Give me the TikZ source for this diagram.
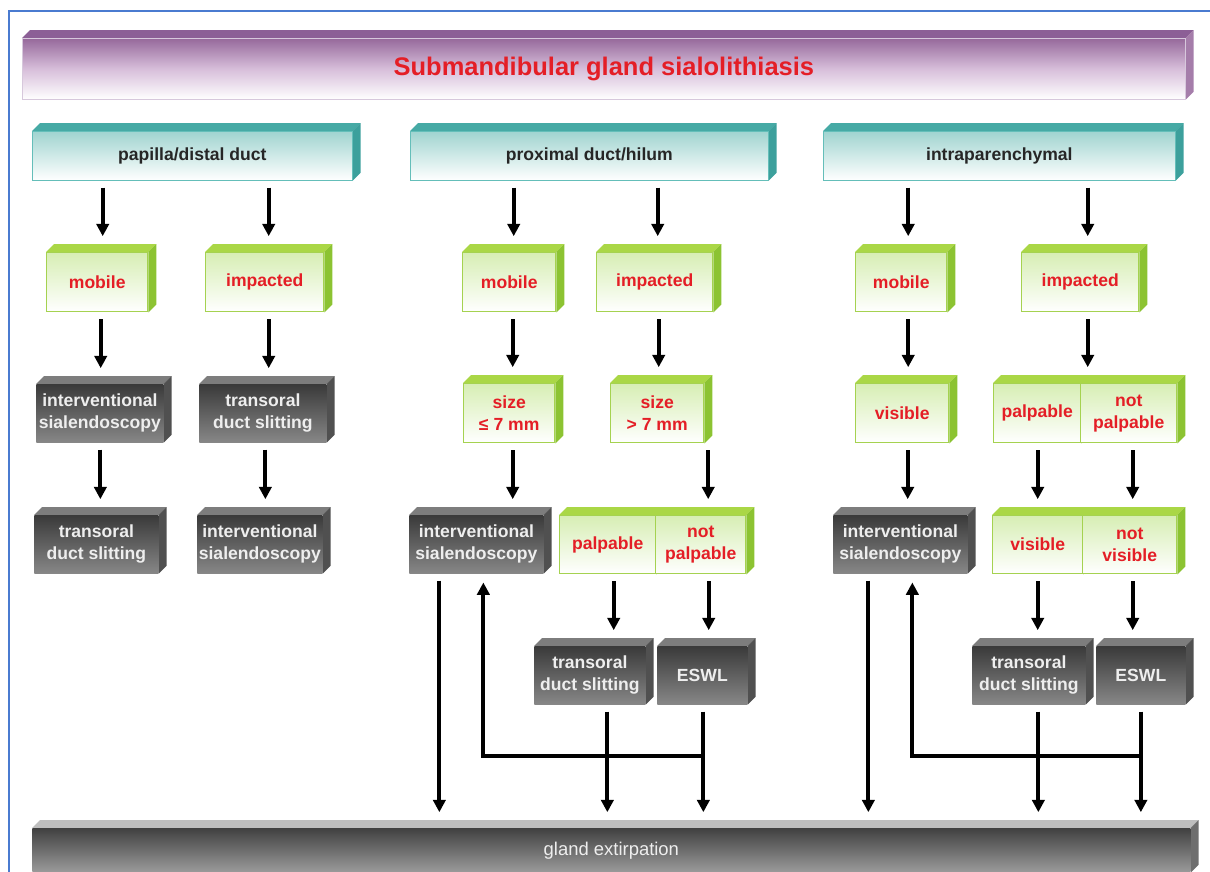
\documentclass[tikz,border=0pt]{standalone}
\usepackage{fontspec}
\setmainfont{Liberation Sans}
\usetikzlibrary{arrows.meta,calc,backgrounds}

\definecolor{framecol}{RGB}{74,123,208}
\definecolor{redtext}{RGB}{228,30,38}
\definecolor{greenline}{RGB}{165,210,80}
\definecolor{greentop}{RGB}{215,238,180}
\definecolor{topgreen}{RGB}{170,215,70}
\definecolor{sidegreen}{RGB}{140,195,50}
\definecolor{greytop}{RGB}{58,58,58}
\definecolor{greybot}{RGB}{135,135,135}
\definecolor{topgrey}{RGB}{125,125,125}
\definecolor{sidegrey}{RGB}{80,80,80}
\definecolor{greytext}{RGB}{238,238,238}
\definecolor{tealline}{RGB}{100,190,185}
\definecolor{tealtop}{RGB}{160,212,208}
\definecolor{topteal}{RGB}{70,170,165}
\definecolor{sideteal}{RGB}{60,160,156}
\definecolor{titleline}{RGB}{215,200,220}
\definecolor{titletop}{RGB}{150,105,155}
\definecolor{titlemid}{RGB}{215,190,218}
\definecolor{toptitle}{RGB}{140,95,150}
\definecolor{sidetitle}{RGB}{165,125,170}
\definecolor{bartop}{RGB}{65,65,65}
\definecolor{barbot}{RGB}{155,155,155}
\definecolor{topbar}{RGB}{190,190,190}
\definecolor{sidebar}{RGB}{110,110,110}

\begin{document}
\begin{tikzpicture}[x=0.02cm, y=-0.02cm,
    sz/.style 2 args={minimum width=#1*0.02cm, minimum height=#2*0.02cm, anchor=north west},
    box/.style={inner sep=0pt, align=center, font=\bfseries\fontsize{10}{12.5}\selectfont},
    titlebox/.style={box, draw=titleline, top color=titletop, bottom color=white, middle color=titlemid, text=redtext, font=\bfseries\fontsize{14.5}{17}\selectfont},
    tealbox/.style={box, draw=tealline, top color=tealtop, bottom color=white, text=black!85},
    greenbox/.style={box, draw=greenline, line width=0.8pt, top color=greentop, bottom color=white, text=redtext},
    greybox/.style={box, top color=greytop, bottom color=greybot, text=greytext},
    barbox/.style={box, top color=bartop, bottom color=barbot, text=greytext, font=\fontsize{10.5}{12}\selectfont},
    arr/.style={line width=2.2pt, -{Triangle[length=7pt,width=7pt]}, shorten <=4pt, shorten >=9pt}
  ]
        \useasboundingbox (0,0) rectangle (1210,872);

        % Draw the frame
        \draw[framecol, line width=1.5pt] (9,872) -- (9,11) -- (1210,11);

        % Title and bottom bar
        \node[titlebox, sz={1163}{61}] at (22,38) (title) {Submandibular gland sialolithiasis};
        \node[barbox, sz={1158}{44}] at (32,828) (ge) {gland extirpation};

        % Location of the stone
        \node[tealbox, sz={320}{49}] at (32,131) (pd) {papilla/distal duct};
        \node[tealbox, sz={358}{49}] at (410,131) (ph) {proximal duct/hilum};
        \node[tealbox, sz={352}{49}] at (823,131) (ip) {intraparenchymal};

        % Second level
        \node[greenbox, sz={101}{59}] at (46,252) (pdm) {mobile};
        \node[greenbox, sz={118}{59}] at (205,252) (pdi) {impacted};
        \node[greenbox, sz={93}{59}] at (462,252) (phm) {mobile};
        \node[greenbox, sz={116}{59}] at (596,252) (phi) {impacted};
        \node[greenbox, sz={91}{59}] at (855,252) (ipm) {mobile};
        \node[greenbox, sz={117}{59}] at (1021,252) (ipi) {impacted};

        % Third level
        \node[greybox, sz={127}{58}] at (36,384) (pdm2) {interventional\\sialendoscopy};
        \node[greybox, sz={127}{58}] at (199,384) (pdi2) {transoral\\duct slitting};
        \node[greenbox, sz={91}{59}] at (463,383) (phs) {size\\≤ 7 mm};
        \node[greenbox, sz={93}{59}] at (610,383) (phl) {size\\> 7 mm};
        \node[greenbox, sz={93}{59}] at (855,383) (ipv) {visible};
        \node[greenbox, sz={87}{59}] at (993,383) (ipp) {palpable};
        \node[greenbox, sz={96}{59}] at (1080,383) (ipn) {not\\palpable};

        % Fourth level
        \node[greybox, sz={124}{58}] at (34,515) (pdm3) {transoral\\duct slitting};
        \node[greybox, sz={125}{58}] at (197,515) (pdi3) {interventional\\sialendoscopy};
        \node[greybox, sz={134}{58}] at (409,515) (phe) {interventional\\sialendoscopy};
        \node[greenbox, sz={96}{58}] at (559,515) (php) {palpable};
        \node[greenbox, sz={90}{58}] at (655,515) (phn) {not\\palpable};
        \node[greybox, sz={134}{58}] at (833,515) (ipe) {interventional\\sialendoscopy};
        \node[greenbox, sz={90}{58}] at (992,515) (ipsv) {visible};
        \node[greenbox, sz={94}{58}] at (1082,515) (ipnv) {not\\visible};

        % Fifth level
        \node[greybox, sz={111}{58}] at (534,646) (pht) {transoral\\duct slitting};
        \node[greybox, sz={90}{58}] at (657,646) (phw) {ESWL};
        \node[greybox, sz={113}{58}] at (972,646) (ipt) {transoral\\duct slitting};
        \node[greybox, sz={89}{58}] at (1096,646) (ipw) {ESWL};

        % Draw top and side faces of the boxes
        \begin{scope}[on background layer]
        \foreach \n/\k in {title/title, ge/bar, pd/teal, ph/teal, ip/teal,
            pdm/green, pdi/green, phm/green, phi/green, ipm/green, ipi/green,
            pdm2/grey, pdi2/grey, phs/green, phl/green, ipv/green, ipp/green, ipn/green,
            pdm3/grey, pdi3/grey, phe/grey, php/green, phn/green, ipe/grey, ipsv/green, ipnv/green,
            pht/grey, phw/grey, ipt/grey, ipw/grey}{
          \fill[top\k] (\n.north west) -- ++(8,-8) -- ([shift={(8,-8)}]\n.north east) -- (\n.north east) -- cycle;
          \fill[side\k] (\n.north east) -- ++(8,-8) -- ([shift={(8,-8)}]\n.south east) -- (\n.south east) -- cycle;
        }
        \end{scope}

        % Arrows from the location boxes
        \foreach \a/\b/\dx in {pd/pdm/5.5, pd/pdi/4, ph/phm/4.5, ph/phi/3, ip/ipm/7, ip/ipi/7.5}
          \draw[arr] ($(\a.south -| \b.north)+(\dx,0)$) -- ($(\b.north)+(\dx,0)$);

        % Arrows between the lower levels
        \foreach \a/\b/\dx in {pdm/pdm2/3.5, pdi/pdi2/4, pdm2/pdm3/0.5, pdi2/pdi3/2.5,
            phm/phs/3.5, phi/phl/4, phs/phe/3.5, phl/php/51, php/pht/6, phn/phw/8,
            ipm/ipv/7, ipi/ipp/7.5, ipv/ipe/5.5, ipp/ipsv/0.5, ipn/ipnv/4, ipsv/ipt/0, ipnv/ipw/3,
            phe/ge/-37, pht/ge/17.5, phw/ge/1, ipe/ge/-32, ipt/ge/9.5, ipw/ge/0}
          \draw[arr] ($(\a.south)+(\dx,0)$) -- ($(\a.south |- \b.north)+(\dx,0)$);

        % Way back to sialendoscopy
        \coordinate (phj) at ($(phw.south)+(1,51)$);
        \coordinate (ipj) at ($(ipw.south)+(0,51)$);
        \draw[arr, shorten <=0pt, shorten >=5pt] (phj) -| ($(phe.south)+(7,0)$);
        \draw[arr, shorten <=0pt, shorten >=5pt] (ipj) -| ($(ipe.south)+(12,0)$);
    \end{tikzpicture}
\end{document}
